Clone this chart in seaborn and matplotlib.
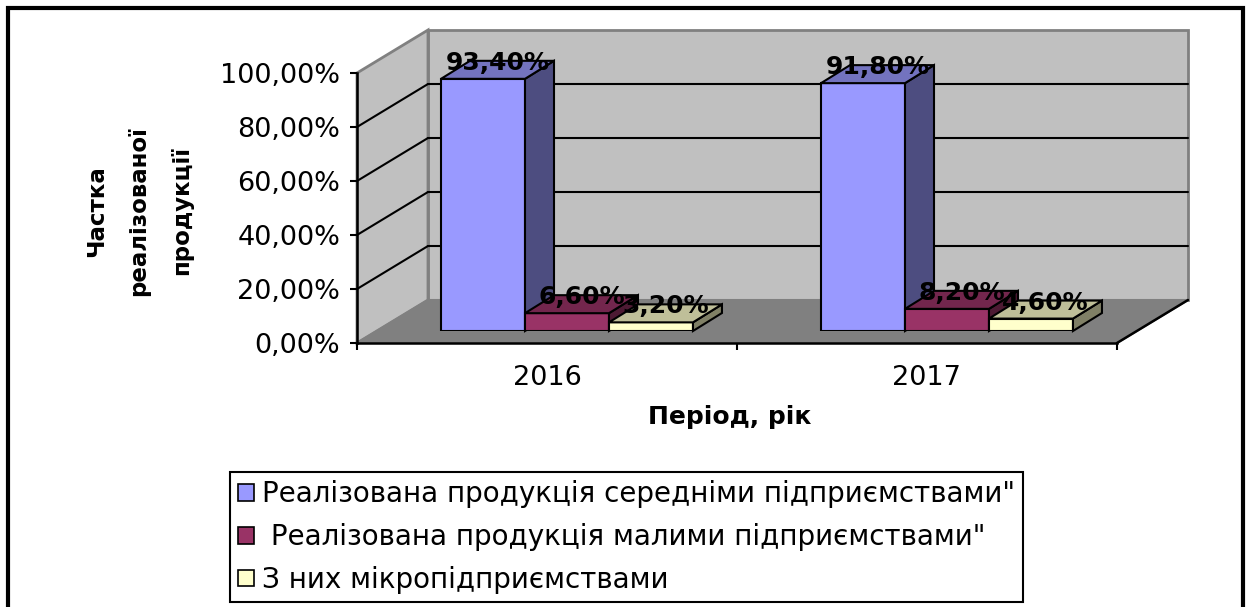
import numpy as np
import pandas as pd
import matplotlib
matplotlib.use("Agg")
import matplotlib.pyplot as plt
from matplotlib.patches import Polygon, Rectangle, Patch
import seaborn as sns

# ---------------- data ----------------
years = ["2016", "2017"]
series_names = [
    "Реалізована продукція середніми підприємствами\"",
    " Реалізована продукція малими підприємствами\"",
    "З них мікропідприємствами",
]
medium_values = [93.4, 91.8]
small_values = [6.6, 8.2]
micro_values = [3.2, 4.6]
ytick_values = [0, 20, 40, 60, 80, 100]
ytick_labels = ["0,00%", "20,00%", "40,00%", "60,00%", "80,00%", "100,00%"]
colors = ["#9999ff", "#993366", "#ffffcc"]
y_label = "Частка\nреалізованої\nпродукції"
x_label = "Період, рік"

df = pd.DataFrame({
    "year": years * 3,
    "series": [series_names[0]] * 2 + [series_names[1]] * 2 + [series_names[2]] * 2,
    "value": medium_values + small_values + micro_values,
})

# ---------------- figure / geometry ----------------
W, H = 1248, 607
sns.set_style("white")
plt.rcParams["font.family"] = ["DejaVu Sans"]
plt.rcParams["text.color"] = "black"
plt.rcParams["axes.labelcolor"] = "black"
plt.rcParams["xtick.color"] = "black"
plt.rcParams["ytick.color"] = "black"
fig = plt.figure(figsize=(W / 100, H / 100), dpi=100)

# front plane of the 3D box (pixels)
FX0, FX1, FY0, FY1 = 357, 1117, 343, 73
ax = fig.add_axes([FX0 / W, 1 - FY0 / H, (FX1 - FX0) / W, (FY0 - FY1) / H])
ax.set_xlim(-0.5, 1.5)
ax.set_ylim(0, 100)
ax.set_facecolor("none")
upx_x = 2.0 / (FX1 - FX0)
upx_y = 100.0 / (FY0 - FY1)

# wall depth
DX = 71 * upx_x
DY = 43 * upx_y
wall_gray = "#c0c0c0"
floor_gray = "#808080"
edge_gray = "#808080"

xl, xr = -0.5, 1.5
# back wall
ax.add_patch(Polygon([(xl + DX, DY), (xr + DX, DY), (xr + DX, 100 + DY), (xl + DX, 100 + DY)],
                     closed=True, fc=wall_gray, ec=edge_gray, lw=2, clip_on=False, zorder=0.5))
# side wall
ax.add_patch(Polygon([(xl, 0), (xl + DX, DY), (xl + DX, 100 + DY), (xl, 100)],
                     closed=True, fc=wall_gray, ec=edge_gray, lw=2, clip_on=False, zorder=0.5))
# floor
ax.add_patch(Polygon([(xl, 0), (xr, 0), (xr + DX, DY), (xl + DX, DY)],
                     closed=True, fc=floor_gray, ec=edge_gray, lw=1.5, clip_on=False, zorder=0.6))
ax.plot([xr, xr + DX], [0, DY], color="black", lw=1.8, clip_on=False, zorder=0.7)
# gridlines
for v in ytick_values[1:-1]:
    ax.plot([xl + DX, xr + DX], [v + DY, v + DY], color="black", lw=1.5, clip_on=False, zorder=0.7)
    ax.plot([xl, xl + DX], [v, v + DY], color="black", lw=1.5, clip_on=False, zorder=0.7)

for s in ["top", "right"]:
    ax.spines[s].set_visible(False)
for s in ["left", "bottom"]:
    ax.spines[s].set_color("black")
    ax.spines[s].set_linewidth(1.8)
    ax.spines[s].set_zorder(0.8)

ax.set_yticks(ytick_values)
ax.set_yticklabels(ytick_labels)
ax.tick_params(axis="y", which="major", direction="out", length=5, width=1.5,
               labelsize=19.5, pad=7, left=True, color="black", labelcolor="black")
ax.set_xticks([0, 1])
ax.set_xticklabels(years)
ax.set_xticks([-0.5, 0.5, 1.5], minor=True)
ax.tick_params(axis="x", which="major", length=0, labelsize=19.5, pad=16, labelcolor="black")
ax.tick_params(axis="x", which="minor", direction="out", length=5, width=1.5, bottom=True, color="black")

ax.set_ylabel(y_label, fontsize=16.5, fontweight="bold", linespacing=2.1,
              multialignment="center", color="black")
ax.yaxis.label.set_verticalalignment("center")
ax.yaxis.set_label_coords((139 - FX0) / (FX1 - FX0), 0.49)
ax.set_xlabel(x_label, fontsize=18, fontweight="bold", color="black")
ax.xaxis.set_label_coords((730 - FX0) / (FX1 - FX0), (FY0 - 405) / (FY0 - FY1))

# ---------------- bars (plane inside the box) ----------------
BSX, BSY = 20, 12  # shift of bar plane relative to front plane (px)
axb = fig.add_axes([(FX0 + BSX) / W, 1 - (FY0 - BSY) / H, (FX1 - FX0) / W, (FY0 - FY1) / H])
axb.set_facecolor("none")
sns.barplot(data=df, x="year", y="value", hue="series", hue_order=series_names,
            palette=colors, width=0.663, saturation=1, edgecolor="black", linewidth=1.5,
            legend=False, errorbar=None, ax=axb)
axb.set_xlim(-0.5, 1.5)
axb.set_ylim(0, 100)
axb.axis("off")

bdx = 29 * upx_x
bdy = 18 * upx_y
bars = []
for cont in axb.containers:
    for p in cont.patches:
        bars.append(p)
bars.sort(key=lambda p: p.get_x())
for i, p in enumerate(bars):
    x0 = p.get_x()
    x1 = x0 + p.get_width()
    v = p.get_height()
    rgb = np.array(p.get_facecolor()[:3])
    z = 3 + i * 0.1
    p.set_zorder(z)
    side = Polygon([(x1, 0), (x1 + bdx, bdy), (x1 + bdx, v + bdy), (x1, v)], closed=True,
                   fc=tuple(rgb * 0.5), ec="black", lw=1.5, clip_on=False, zorder=z + 0.05)
    top = Polygon([(x0, v), (x1, v), (x1 + bdx, v + bdy), (x0 + bdx, v + bdy)], closed=True,
                  fc=tuple(rgb * 0.75), ec="black", lw=1.5, clip_on=False, zorder=z + 0.05)
    axb.add_patch(side)
    axb.add_patch(top)
    label = f"{v:.2f}%".replace(".", ",")
    axb.text((x0 + x1) / 2 + bdx / 2, v + bdy / 2, label, ha="center", va="baseline",
             fontsize=18, fontweight="bold", color="black", zorder=20, clip_on=False)

# ---------------- legend ----------------
handles = [Patch(facecolor=c, edgecolor="black", linewidth=1.2) for c in colors]
leg = fig.legend(handles, series_names, loc="upper left",
                 bbox_to_anchor=(230 / W, 1 - 472 / H), bbox_transform=fig.transFigure,
                 borderaxespad=0, frameon=True, fancybox=False, framealpha=1,
                 edgecolor="black", fontsize=20, handlelength=0.55, handleheight=0.55,
                 handletextpad=0.3, labelspacing=0.53, borderpad=0.3)
leg.get_frame().set_linewidth(1.5)
for t in leg.get_texts():
    t.set_color("black")

# outer frame
fig.add_artist(Rectangle((8 / W, -0.05), (1243 - 8) / W, 1 - 8 / H + 0.05, transform=fig.transFigure,
                         fill=False, ec="black", lw=3))

fig.savefig("out.png", dpi=100)
